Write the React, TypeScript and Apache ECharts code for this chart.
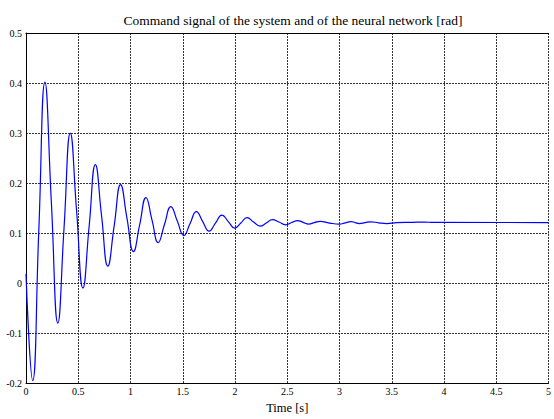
import React, { useEffect, useRef } from "react";
import * as echarts from "echarts";

const titleText = "Command signal of the system and of the neural network [rad]";
const xAxisName = "Time [s]";

const timeValues: number[] = [
  0.0, 0.064, 0.122, 0.181, 0.243, 0.305, 0.364, 0.424, 0.484, 0.545,
  0.604, 0.664, 0.723, 0.783, 0.844, 0.905, 0.966, 1.028, 1.088, 1.148,
  1.206, 1.265, 1.325, 1.386, 1.448, 1.51, 1.57, 1.63, 1.691, 1.752,
  1.813, 1.875, 1.936, 1.998, 2.056, 2.115, 2.178, 2.24, 2.299, 2.358,
  2.421, 2.485, 2.542, 2.6, 2.652, 2.705, 2.76, 2.815, 2.905, 3.0,
  3.055, 3.11, 3.15, 3.19, 3.245, 3.3, 3.375, 3.45, 3.55, 3.7,
  3.81, 3.9, 5.0,
];

const signalValues: number[] = [
  0.018, -0.195, 0.102, 0.402, 0.16, -0.08, 0.11, 0.3, 0.145, -0.01,
  0.113, 0.237, 0.135, 0.034, 0.115, 0.197, 0.13, 0.063, 0.117, 0.171,
  0.126, 0.081, 0.117, 0.153, 0.124, 0.095, 0.119, 0.143, 0.123, 0.104,
  0.12, 0.136, 0.123, 0.11, 0.12, 0.131, 0.122, 0.114, 0.12, 0.127,
  0.122, 0.1165, 0.121, 0.125, 0.1215, 0.118, 0.121, 0.1235, 0.12, 0.118,
  0.1205, 0.123, 0.121, 0.119, 0.121, 0.1225, 0.1205, 0.119, 0.121, 0.1215,
  0.122, 0.1212, 0.121,
];

const xTicks = { min: 0, max: 5, interval: 0.5 };
const yTicks = { min: -0.2, max: 0.5, interval: 0.1 };

export default function App() {
  const ref = useRef<HTMLDivElement>(null);

  useEffect(() => {
    document.body.style.margin = "0";
    document.body.style.overflow = "hidden";
    const el = ref.current;
    if (!el) return;
    const chart = echarts.init(el, null, { renderer: "svg" });
    const font = "Liberation Serif";
    const gridLine = { show: true, lineStyle: { color: "#333", width: 1, type: [2, 1] as any } };
    const fmt = (v: number) => String(Number(v.toFixed(1)));
    const data = timeValues.map((t, i) => [t, signalValues[i]]);
    chart.setOption({
      animation: false,
      backgroundColor: "#fff",
      title: {
        text: titleText,
        left: 288,
        top: 8,
        textAlign: "center",
        textStyle: { fontFamily: font, fontSize: 13.5, fontWeight: "normal", color: "#000" },
      },
      grid: { left: 26, top: 33, width: 529, height: 357, containLabel: false },
      xAxis: [
        {
          type: "value",
          min: xTicks.min,
          max: xTicks.max,
          interval: xTicks.interval,
          name: xAxisName,
          nameLocation: "middle",
          nameGap: 14,
          nameTextStyle: { fontFamily: font, fontSize: 12.5, color: "#000" },
          axisLine: { show: true, onZero: false, lineStyle: { color: "#000", width: 1 } },
          axisTick: { show: false },
          axisLabel: { fontFamily: font, fontSize: 10, color: "#000", margin: 3, formatter: fmt },
          splitLine: gridLine,
        },
        {
          type: "value",
          position: "top",
          min: xTicks.min,
          max: xTicks.max,
          interval: xTicks.interval,
          axisLine: { show: true, onZero: false, lineStyle: { color: "#000", width: 1 } },
          axisTick: { show: false },
          axisLabel: { show: false },
          splitLine: { show: false },
        },
      ],
      yAxis: {
        type: "value",
        min: yTicks.min,
        max: yTicks.max,
        interval: yTicks.interval,
        axisLine: { show: true, onZero: false, lineStyle: { color: "#000", width: 1 } },
        axisTick: { show: false },
        axisLabel: { fontFamily: font, fontSize: 10, color: "#000", margin: 4, formatter: fmt },
        splitLine: gridLine,
      },
      series: [
        {
          type: "line",
          xAxisIndex: 0,
          data,
          smooth: 0.5,
          showSymbol: false,
          symbol: "none",
          lineStyle: { color: "#0000ff", width: 1.2 },
        },
      ],
    });
    return () => chart.dispose();
  }, []);

  return <div ref={ref} style={{ width: 554, height: 419, background: "#fff" }} />;
}
